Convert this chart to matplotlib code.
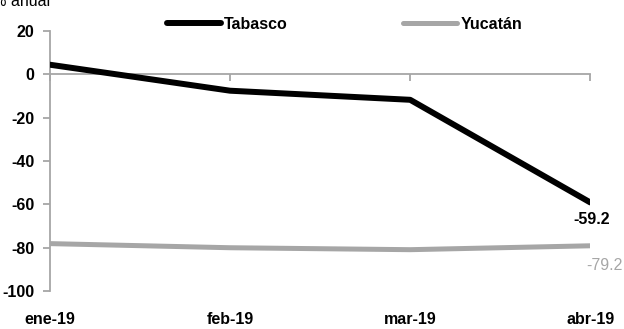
import matplotlib.pyplot as plt
from matplotlib import font_manager

months = ['ene-19', 'feb-19', 'mar-19', 'abr-19']
tabasco = [4.4, -7.6, -11.8, -59.2]
yucatan = [-78.2, -80.1, -81.0, -79.2]
yticks = [20, 0, -20, -40, -60, -80, -100]

names = {f.name for f in font_manager.fontManager.ttflist}
base = 'Liberation Sans Narrow' if 'Liberation Sans Narrow' in names else 'Liberation Sans'
plt.rcParams['font.family'] = [base, 'DejaVu Sans']

axis_gray = '#A6A6A6'
line_gray = '#A6A6A6'

fig = plt.figure(figsize=(6.24, 3.29), dpi=100)
ax = fig.add_axes([0.080, 0.116, 0.866, 0.790])

x = list(range(len(months)))
ax.plot(x, tabasco, color='black', lw=4.3, solid_capstyle='round', label='Tabasco', zorder=3)
ax.plot(x, yucatan, color=line_gray, lw=3.6, solid_capstyle='round', label='Yucatán', zorder=3)

ax.set_xlim(0, len(months) - 1)
ax.set_ylim(-100, 20)
ax.set_yticks(yticks)
ax.set_yticklabels([str(v) for v in yticks], fontsize=11.5, fontweight='bold')

for s in ['top', 'right']:
    ax.spines[s].set_visible(False)
ax.spines['left'].set_color(axis_gray)
ax.spines['left'].set_linewidth(1.3)
ax.spines['bottom'].set_position(('data', 0))
ax.spines['bottom'].set_color(axis_gray)
ax.spines['bottom'].set_linewidth(1.3)
ax.tick_params(axis='y', direction='out', length=5, width=1.3, color=axis_gray, pad=6)
ax.tick_params(axis='x', direction='out', length=5, width=1.3, color=axis_gray, labelbottom=False)
ax.set_xticks(x)

for i, m in enumerate(months):
    ax.text(i, -0.11, m, transform=ax.get_xaxis_transform(), ha='center', va='center',
            fontsize=11.5, fontweight='bold')

# etiquetas del último dato
ax.annotate(f'{tabasco[-1]:.1f}', (x[-1], tabasco[-1]), xytext=(1, -7), textcoords='offset points',
            ha='center', va='top', fontsize=11.5, fontweight='bold', color='black')
ax.annotate(f'{yucatan[-1]:.1f}', (x[-1], yucatan[-1]), xytext=(10, -9), textcoords='offset points',
            ha='center', va='top', fontsize=11.5, color=line_gray)

ax.legend(loc='center', bbox_to_anchor=(0.545, 1.025), ncol=2, frameon=False,
          handlelength=3.4, handletextpad=0.2, columnspacing=7.2,
          prop={'weight': 'bold', 'size': 11.5})

fig.text(50 / 624, 1 - 6 / 329, 'Variación % anual', fontsize=11.5, ha='right', va='baseline')

fig.savefig('out.png', dpi=100)
